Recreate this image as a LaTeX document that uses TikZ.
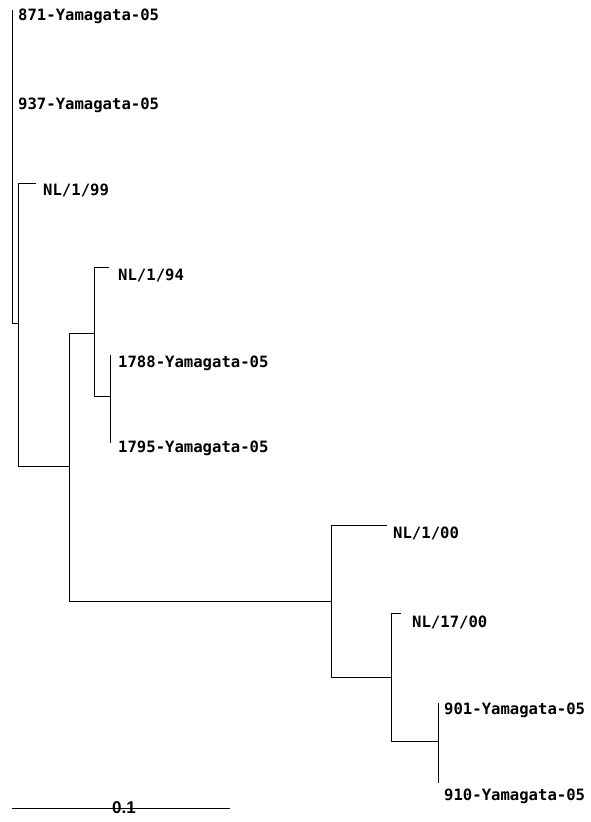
\documentclass[tikz,border=0pt]{standalone}
\usepackage{fontspec}
\newfontfamily\labfont{DejaVu Sans Mono}
\newfontfamily\scalefont{Liberation Sans}
\begin{document}
\begin{tikzpicture}[x=1pt,y=-1pt,
  branch/.style={line width=0.8pt, black},
  leaflabel/.style={anchor=base west, inner sep=0pt, font=\labfont\bfseries\fontsize{15.6}{18}\selectfont},
  scalelabel/.style={anchor=base, inner sep=0pt, font=\scalefont\bfseries\fontsize{17}{19}\selectfont}]
\useasboundingbox[fill=white] (0,0) rectangle (590,822);

% tree coordinates
\coordinate (r) at (12,323);
\coordinate (l871) at (12,10);
\coordinate (l937) at (12,97);
\coordinate (a) at (18,323);
\coordinate (l99) at (36,183);
\coordinate (b) at (69,466);
\coordinate (c) at (94,333);
\coordinate (l94) at (109,267);
\coordinate (d) at (110,396);
\coordinate (l1788) at (110,355);
\coordinate (l1795) at (110,443);
\coordinate (e) at (331,601);
\coordinate (l00) at (387,525);
\coordinate (f) at (391,677);
\coordinate (l1700) at (401,613);
\coordinate (g) at (438,741);
\coordinate (l901) at (438,703);
\coordinate (l910) at (438,783);

% branches
\draw[branch] (l871) -- (r) -- (a);
\draw[branch] (a) |- (l99);
\draw[branch] (a) |- (b);
\draw[branch] (b) |- (c);
\draw[branch] (b) |- (e);
\draw[branch] (c) |- (l94);
\draw[branch] (c) |- (d);
\draw[branch] (l1788) -- (l1795);
\draw[branch] (e) |- (l00);
\draw[branch] (e) |- (f);
\draw[branch] (f) |- (l1700);
\draw[branch] (f) |- (g);
\draw[branch] (l901) -- (l910);

% labels
\node[leaflabel] (n871) at (18,20) {871-Yamagata-05};
\node[leaflabel] (n937) at (18,109) {937-Yamagata-05};
\node[leaflabel] (n99) at (43,195) {NL/1/99};
\node[leaflabel] (n94) at (118,280) {NL/1/94};
\node[leaflabel] (n1788) at (118,367) {1788-Yamagata-05};
\node[leaflabel] (n1795) at (118,452) {1795-Yamagata-05};
\node[leaflabel] (n00) at (393,538) {NL/1/00};
\node[leaflabel] (n1700) at (412,627) {NL/17/00};
\node[leaflabel] (n901) at (444,714) {901-Yamagata-05};
\node[leaflabel] (n910) at (444,800) {910-Yamagata-05};

% scale bar
\coordinate (s1) at (12,808);
\coordinate (s2) at (230,808);
\draw[branch] (s1) -- (s2);
\node[scalelabel] (sl) at (124,813) {0.1};
\end{tikzpicture}
\end{document}
